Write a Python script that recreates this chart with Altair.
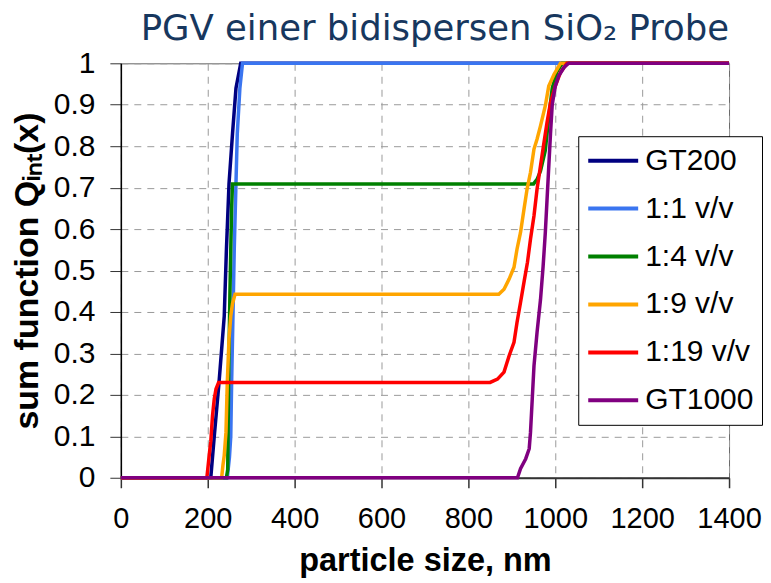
import altair as alt
import pandas as pd

# ---------------- data ----------------
series_names = ["GT200", "1:1 v/v", "1:4 v/v", "1:9 v/v", "1:19 v/v", "GT1000"]
series_colors = ["#000080", "#3A75F0", "#008000", "#FFA500", "#FF0000", "#800080"]

gt200_x = [0, 200, 207, 215, 226, 238, 243, 249, 257, 265, 276, 1400]
gt200_y = [0, 0, 0, 0.10, 0.23, 0.39, 0.55, 0.71, 0.83, 0.94, 1.0, 1.0]

v11_x = [0, 245, 250, 253, 255, 259, 261, 265, 268, 274, 280, 1400]
v11_y = [0, 0, 0.05, 0.10, 0.23, 0.44, 0.55, 0.71, 0.83, 0.94, 1.0, 1.0]

v14_x = [0, 243, 246, 248, 251, 253, 255, 257, 950, 958, 966, 977, 985, 993, 1004, 1016, 1400]
v14_y = [0, 0, 0.02, 0.23, 0.44, 0.55, 0.65, 0.709, 0.709, 0.72, 0.74, 0.79, 0.87, 0.94, 0.98, 1.0, 1.0]

v19_x = [0, 232, 235, 238, 242, 245, 249, 253, 257, 263, 870, 882, 894, 905, 912, 920, 928,
         935, 943, 951, 958, 966, 977, 985, 997, 1012, 1400]
v19_y = [0, 0, 0.03, 0.054, 0.11, 0.23, 0.335, 0.39, 0.42, 0.443, 0.443, 0.455, 0.48, 0.508,
         0.552, 0.592, 0.648, 0.696, 0.737, 0.793, 0.817, 0.849, 0.897, 0.945, 0.973, 1.0, 1.0]

v119_x = [0, 198, 200, 205, 207, 211, 215, 219, 225, 850, 867, 882, 894, 905, 912, 920, 928,
          936, 943, 951, 958, 966, 974, 981, 989, 1000, 1012, 1027, 1400]
v119_y = [0, 0, 0.02, 0.07, 0.087, 0.15, 0.19, 0.214, 0.23, 0.23, 0.238, 0.255, 0.295, 0.327,
          0.375, 0.423, 0.472, 0.52, 0.576, 0.632, 0.696, 0.753, 0.809, 0.857, 0.905, 0.945,
          0.978, 1.0, 1.0]

gt1000_x = [0, 913, 920, 932, 940, 943, 947, 951, 958, 966, 972, 977, 981, 985, 989, 993,
            1000, 1008, 1020, 1031, 1400]
gt1000_y = [0, 0, 0.022, 0.046, 0.07, 0.11, 0.19, 0.27, 0.35, 0.43, 0.51, 0.59, 0.67, 0.75,
            0.83, 0.90, 0.945, 0.97, 0.99, 1.0, 1.0]

x_ticks = [0, 200, 400, 600, 800, 1000, 1200, 1400]
y_ticks = [0, 0.1, 0.2, 0.3, 0.4, 0.5, 0.6, 0.7, 0.8, 0.9, 1]

# ---------------- table ----------------
all_x = [gt200_x, v11_x, v14_x, v19_x, v119_x, gt1000_x]
all_y = [gt200_y, v11_y, v14_y, v19_y, v119_y, gt1000_y]
rows = []
for name, xs, ys in zip(series_names, all_x, all_y):
    for i, (xv, yv) in enumerate(zip(xs, ys)):
        rows.append({"series": name, "size": xv, "q": yv, "idx": i})
df = pd.DataFrame(rows)

FONT = "Liberation Sans"

color = alt.Color(
    "series:N",
    scale=alt.Scale(domain=series_names, range=series_colors),
    legend=alt.Legend(
        title=None,
        orient="none",
        legendX=458,
        legendY=73,
        fillColor="white",
        strokeColor="black",
        padding=8,
        symbolType="stroke",
        symbolSize=2500,
        symbolStrokeWidth=4,
        symbolOffset=0,
        labelFont=FONT,
        labelFontSize=30,
        labelColor="black",
        labelOffset=5,
        clipHeight=33,
        rowPadding=15,
    ),
)

x_enc = alt.X(
    "size:Q",
    scale=alt.Scale(domain=[0, 1400], nice=False),
    axis=alt.Axis(
        title="particle size, nm",
        values=x_ticks,
        format="d",
        labelFlush=False,
        labelOverlap=False,
        grid=True,
        gridDash=[7, 6],
        gridColor="#9A9A9A",
        gridWidth=1,
        domainColor="#333333",
        domainWidth=2,
        tickColor="#333333",
        tickWidth=1.5,
        tickSize=10,
        labelFont=FONT,
        labelFontSize=29,
        labelColor="black",
        labelPadding=17,
        titleFont=FONT,
        titleFontSize=32.5,
        titleFontWeight="bold",
        titleColor="black",
        titlePadding=11,
    ),
)

y_enc = alt.Y(
    "q:Q",
    scale=alt.Scale(domain=[0, 1], nice=False),
    axis=alt.Axis(
        title="sum function Qᵢₙₜ(x)",
        values=y_ticks,
        format="~g",
        labelOverlap=False,
        grid=True,
        gridDash=[7, 6],
        gridColor="#9A9A9A",
        gridWidth=1,
        domainColor="black",
        domainWidth=1.5,
        tickColor="#333333",
        tickWidth=1,
        tickSize=11,
        labelFont=FONT,
        labelFontSize=30,
        labelColor="black",
        labelPadding=15,
        titleFont=FONT,
        titleFontSize=34,
        titleFontWeight="bold",
        titleColor="black",
        titlePadding=9,
    ),
)

layers = []
for name in series_names:
    layers.append(
        alt.Chart(df)
        .transform_filter(alt.datum.series == name)
        .mark_line(strokeWidth=3.5, clip=False)
        .encode(x=x_enc, y=y_enc, color=color, order="idx:Q")
    )

chart = (
    alt.layer(*layers)
    .properties(
        width=609,
        height=415,
        padding={"left": 2, "top": 3, "right": 0, "bottom": 0},
        title=alt.TitleParams(
            "PGV einer bidispersen SiO₂ Probe",
            font="DejaVu Sans",
            fontSize=35.5,
            fontWeight="normal",
            color="#17375E",
            anchor="end",
            frame="group",
            offset=1,
        ),
    )
    .configure_view(stroke="#666666", strokeWidth=1)
)

chart.save("out.html", embed_options={"renderer": "svg", "actions": False})
